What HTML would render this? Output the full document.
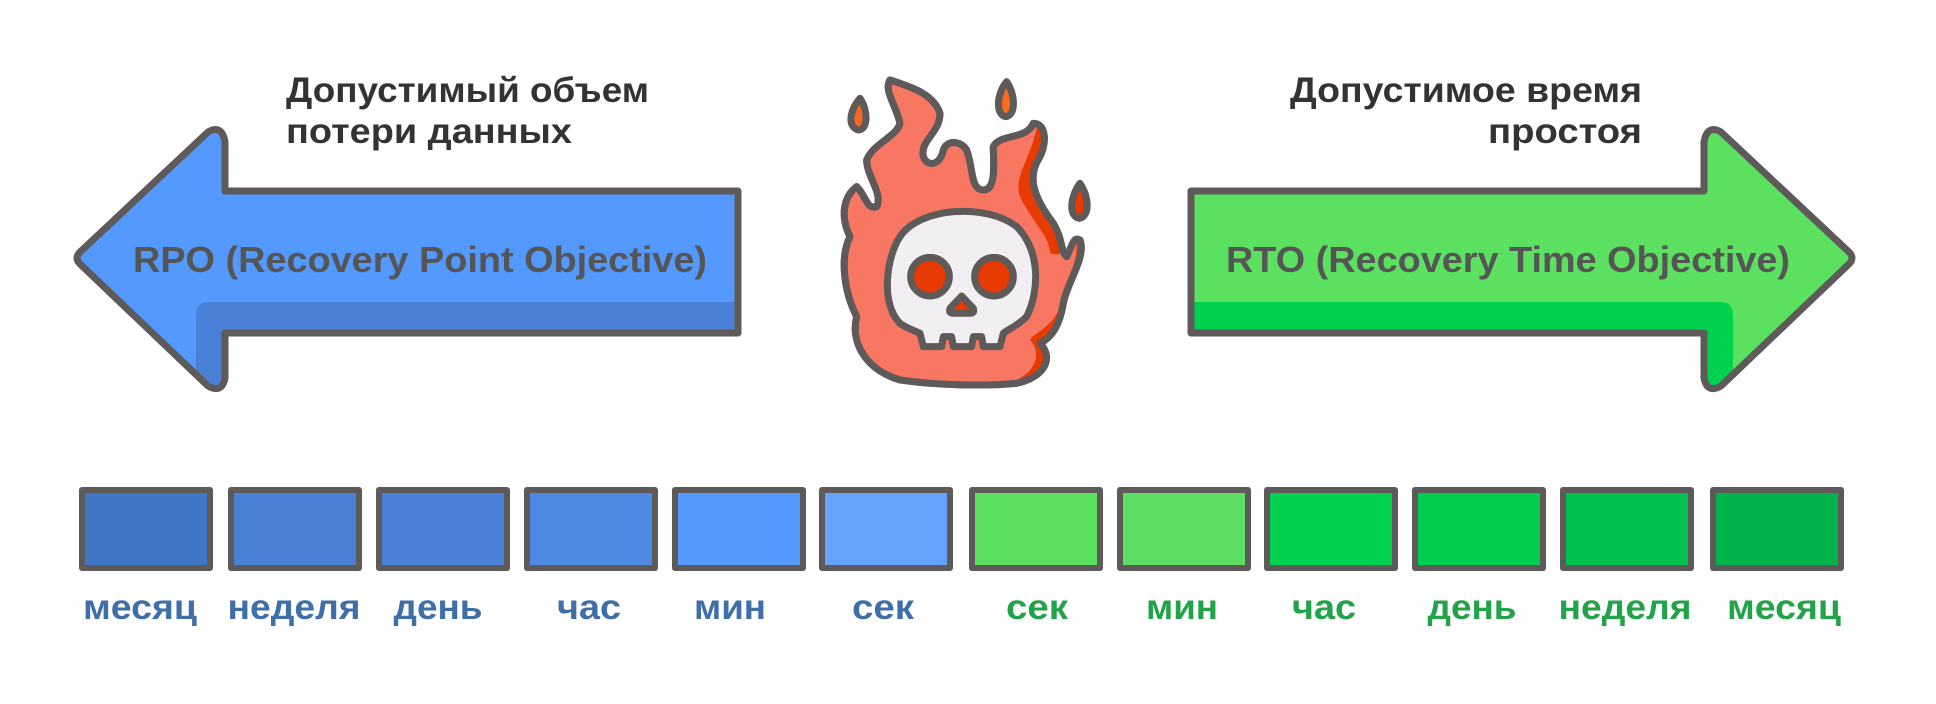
<!DOCTYPE html>
<html><head><meta charset="utf-8"><style>html,body{margin:0;padding:0;background:#fff}svg{display:block}</style></head>
<body>
<svg width="1936" height="704" viewBox="0 0 1936 704" xmlns="http://www.w3.org/2000/svg" font-family="'Liberation Sans', 'DejaVu Sans', sans-serif" font-weight="bold">
<rect width="1936" height="704" fill="#fff"/>
<!-- left arrow -->
<path d="M738,191 L225,191 L225,142 Q222,124 208,132 L80,252 Q74,258 80,264 L208,386 Q222,394 225,378 L225,333 L738,333 Z" fill="#5499fd"/>
<path d="M738,302 L208,302 Q196,302 196,316 L196,372 L208,386 Q222,394 225,378 L225,333 L738,333 Z" fill="#4a80d6"/>
<path d="M738,191 L225,191 L225,142 Q222,124 208,132 L80,252 Q74,258 80,264 L208,386 Q222,394 225,378 L225,333 L738,333 Z" fill="none" stroke="#5e5a5a" stroke-width="7" stroke-linejoin="round"/>
<!-- right arrow -->
<path d="M1191,191 L1704,191 L1704,142 Q1707,124 1721,132 L1849,252 Q1855,258 1849,264 L1721,386 Q1707,394 1704,378 L1704,333 L1191,333 Z" fill="#5ce05f"/>
<path d="M1191,302 L1721,302 Q1733,302 1733,316 L1733,372 L1721,386 Q1707,394 1704,378 L1704,333 L1191,333 Z" fill="#00d24f"/>
<path d="M1191,191 L1704,191 L1704,142 Q1707,124 1721,132 L1849,252 Q1855,258 1849,264 L1721,386 Q1707,394 1704,378 L1704,333 L1191,333 Z" fill="none" stroke="#5e5a5a" stroke-width="7" stroke-linejoin="round"/>
<!-- arrow texts -->
<text x="133" y="272" font-size="36" fill="#555" textLength="574" lengthAdjust="spacingAndGlyphs">RPO (Recovery Point Objective)</text>
<text x="1226" y="272" font-size="36" fill="#555" textLength="564" lengthAdjust="spacingAndGlyphs">RTO (Recovery Time Objective)</text>
<!-- titles -->
<text x="286" y="102" font-size="35" fill="#333" textLength="363" lengthAdjust="spacingAndGlyphs">Допустимый объем</text>
<text x="286" y="143" font-size="35" fill="#333" textLength="286" lengthAdjust="spacingAndGlyphs">потери данных</text>
<text x="1290" y="102" font-size="35" fill="#333" textLength="352" lengthAdjust="spacingAndGlyphs">Допустимое время</text>
<text x="1488" y="143" font-size="35" fill="#333" textLength="154" lengthAdjust="spacingAndGlyphs">простоя</text>
<!-- skull -->
<g transform="translate(800,50) scale(0.3333)" stroke="#5e5a5a" stroke-width="21" stroke-linejoin="round">
<path d="M300,990 C200,960 150,880 170,800 C130,720 120,620 150,560 C120,500 130,440 170,410 C200,440 200,480 230,470 C250,430 200,380 200,330 C220,280 290,260 300,220 C290,170 250,120 270,90 C330,110 400,130 420,190 C420,250 360,270 370,320 C380,350 420,350 430,300 C440,270 480,270 500,300 C520,350 510,420 550,420 C590,420 580,340 580,290 C600,250 680,270 700,220 C740,220 740,280 720,320 C680,380 700,440 760,520 C790,570 780,600 800,620 C820,580 820,560 840,570 C860,620 800,700 790,760 C780,820 760,860 720,880 C760,920 740,980 650,1000 C550,1010 400,1005 300,990 Z" fill="#f77763"/>
<path d="M710,235 C690,330 640,380 660,440 C700,520 750,560 750,610 C780,620 810,600 830,580 C830,660 790,720 780,770 C760,830 700,850 690,870 C720,900 720,960 640,995 C720,990 750,950 720,880 C760,860 780,820 790,760 C800,700 860,620 840,570 C820,560 820,580 800,620 C780,600 790,570 760,520 C700,440 680,380 720,320 C740,280 735,235 710,235 Z" fill="#e63a00" stroke="none"/>
<path d="M300,990 C200,960 150,880 170,800 C130,720 120,620 150,560 C120,500 130,440 170,410 C200,440 200,480 230,470 C250,430 200,380 200,330 C220,280 290,260 300,220 C290,170 250,120 270,90 C330,110 400,130 420,190 C420,250 360,270 370,320 C380,350 420,350 430,300 C440,270 480,270 500,300 C520,350 510,420 550,420 C590,420 580,340 580,290 C600,250 680,270 700,220 C740,220 740,280 720,320 C680,380 700,440 760,520 C790,570 780,600 800,620 C820,580 820,560 840,570 C860,620 800,700 790,760 C780,820 760,860 720,880 C760,920 740,980 650,1000 C550,1010 400,1005 300,990 Z" fill="none"/>
<path d="M180,145 C150,180 140,230 175,240 C205,240 205,180 180,145 Z" fill="#fa6a1e"/>
<path d="M620,95 C590,130 585,195 618,200 C650,195 645,130 620,95 Z" fill="#fa6a1e"/>
<path d="M840,400 C810,440 805,500 838,505 C870,500 868,440 840,400 Z" fill="#e63a00"/>
<path d="M300,820 C240,760 260,620 300,560 C360,470 560,460 650,530 C720,600 720,720 680,800 C650,830 620,840 610,850 L600,890 L550,890 L545,860 L520,860 L515,890 L460,890 L455,860 L430,860 L425,890 L370,890 L360,850 C340,840 320,835 300,820 Z" fill="#f2eff2"/>
<circle cx="390" cy="680" r="58" fill="#e63a00"/>
<circle cx="582" cy="680" r="58" fill="#e63a00"/>
<path d="M485,738 L520,775 Q525,790 510,790 L460,790 Q445,790 450,775 Z" fill="#e63a00"/>
</g>
<!-- boxes -->
<g stroke="#5e5a5a" stroke-width="6" stroke-linejoin="round">
<rect x="82" y="490" width="128" height="78" fill="#3f76c6"/>
<rect x="231" y="490" width="128" height="78" fill="#4a80d6"/>
<rect x="379" y="490" width="128" height="78" fill="#4a82da"/>
<rect x="527" y="490" width="128" height="78" fill="#4d89e2"/>
<rect x="675" y="490" width="128" height="78" fill="#5499fd"/>
<rect x="822" y="490" width="128" height="78" fill="#66a3ff"/>
<rect x="972" y="490" width="128" height="78" fill="#5ce060"/>
<rect x="1120" y="490" width="128" height="78" fill="#5cdf62"/>
<rect x="1267" y="490" width="128" height="78" fill="#00d14f"/>
<rect x="1415" y="490" width="128" height="78" fill="#00cc4e"/>
<rect x="1563" y="490" width="128" height="78" fill="#00c24c"/>
<rect x="1713" y="490" width="128" height="78" fill="#00b34a"/>
</g>
<g font-size="35" text-anchor="middle">
<text x="140" y="619" fill="#3f6fa8" textLength="114" lengthAdjust="spacingAndGlyphs">месяц</text>
<text x="294" y="619" fill="#3f6fa8" textLength="133" lengthAdjust="spacingAndGlyphs">неделя</text>
<text x="438" y="619" fill="#3f6fa8" textLength="89" lengthAdjust="spacingAndGlyphs">день</text>
<text x="589" y="619" fill="#3f6fa8" textLength="64" lengthAdjust="spacingAndGlyphs">час</text>
<text x="730" y="619" fill="#3f6fa8" textLength="72" lengthAdjust="spacingAndGlyphs">мин</text>
<text x="883" y="619" fill="#3f6fa8" textLength="62" lengthAdjust="spacingAndGlyphs">сек</text>
<text x="1037" y="619" fill="#22a34a" textLength="62" lengthAdjust="spacingAndGlyphs">сек</text>
<text x="1182" y="619" fill="#22a34a" textLength="72" lengthAdjust="spacingAndGlyphs">мин</text>
<text x="1324" y="619" fill="#22a34a" textLength="64" lengthAdjust="spacingAndGlyphs">час</text>
<text x="1472" y="619" fill="#22a34a" textLength="89" lengthAdjust="spacingAndGlyphs">день</text>
<text x="1625" y="619" fill="#22a34a" textLength="133" lengthAdjust="spacingAndGlyphs">неделя</text>
<text x="1784" y="619" fill="#22a34a" textLength="114" lengthAdjust="spacingAndGlyphs">месяц</text>
</g>
</svg>
</body></html>
